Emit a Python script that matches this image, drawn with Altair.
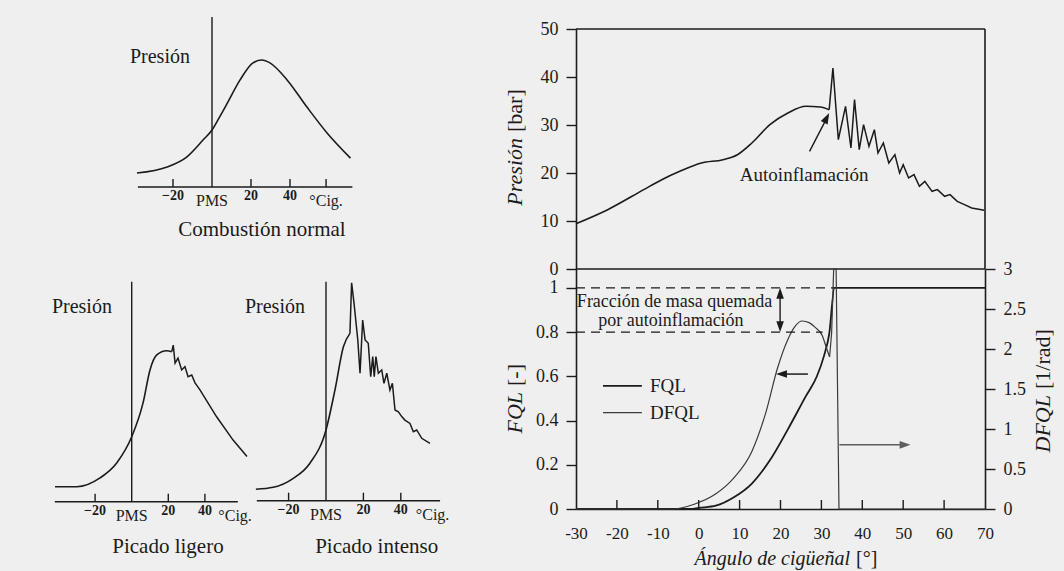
import altair as alt
import pandas as pd

FONT = "Liberation Serif"
INK = "#1b1b1b"
GREY = "#5f5f5f"
BG = "#efefef"

# ---------------- values ----------------
# Schematic panels: crank angle [deg] vs pressure [arbitrary units]
normal_ang = [-38.5, -23, -13, -4.6, 0, 3.8, 7.7, 14.4, 21, 25.6, 29.7, 38.5, 48.7, 59, 71]
normal_p = [8.2, 11.8, 17.6, 27.6, 33.5, 41, 49, 63, 73, 74.7, 73, 63, 47, 31.8, 17]

ligero_ang = [-41.9, -30, -17.3, -8.2, 0, 6.2, 10, 13.7, 19.1, 21.9,
              22.7, 23.7, 25.3, 27.3, 29.1, 30.8, 32.8, 34.6, 37.3, 46.4, 55.4, 63]
ligero_p = [6.8, 6.8, 10.8, 17.6, 29.5, 44.9, 59.9, 66.7, 68.6, 68.2,
            71.2, 63, 65.3, 59.9, 61.4, 56.8, 57.6, 54, 50.8, 38.6, 28, 20.5]
ligero_knock = 21.9

intenso_ang = [-37.5, -28.2, -17.5, -8.6, 0, 4.8, 9.3, 12.8,
               13.7, 15.0, 17.0, 18.2, 19.6, 20.9, 22.6, 23.9, 25.0, 25.8, 26.7, 28.0,
               29.8, 31.0, 32.5, 34.2, 35.5, 36.9, 38.7, 40.5, 42.2, 44.9, 46.7, 48.5,
               51.2, 55.6]
intenso_p = [5.2, 6.1, 10.2, 17.1, 32.3, 50.6, 70.3, 76.4,
             99.5, 90.1, 73.4, 58.2, 82.5, 73.4, 71.9, 56.6, 65.8, 56.6, 65.8, 58.2,
             59.7, 53.6, 58.2, 50.5, 53.6, 41.4, 40.6, 38.4, 36.8, 35.3, 31.5, 32.3,
             28.5, 26.2]
intenso_knock = 12.8

small_ticks = [-20, 20, 40]
small_num_labels = ["\u221220", "20", "40"]

# Measured pressure trace [bar]
press_ang = [-30, -22.25, -13.44, -9.03, -4.63, 0.66, 5.95, 9.47, 13.0, 17.4, 21.8, 26.2, 29.7, 31.9,
             32.82, 34.14, 35.9, 37.22, 38.1, 39.25, 40.31, 41.63, 42.95, 43.83, 45.15, 46.48,
             47.97, 49.12, 50.0, 51.32, 52.64, 53.96, 55.29, 57.05, 58.37, 60.13, 61.45, 63.22,
             64.98, 66.74, 69.82]
press_bar = [9.44, 12.36, 16.53, 18.6, 20.35, 22.08, 22.78, 23.8, 26.25, 30.07, 32.5, 33.9, 33.75, 33.2,
             41.88, 26.94, 33.89, 25.21, 35.28, 24.86, 30.07, 25.56, 29.03, 24.17, 26.25, 22.08,
             23.82, 20.0, 21.74, 18.96, 19.65, 17.22, 18.26, 16.18, 16.53, 15.14, 15.49, 14.1,
             13.4, 12.71, 12.22]
press_knock = 31.9

# Burned mass fraction FQL [-] and its derivative DFQL [1/rad]
fql_ang = [-30, -2, 0, 4.2, 8.6, 13, 17.4, 21.8, 26.2, 28.9, 30.6, 31.9, 33.2, 70]
fql_val = [0, 0, 0.005, 0.015, 0.053, 0.115, 0.22, 0.36, 0.51, 0.60, 0.69, 0.79, 1.0, 1.0]

dfql_ang = [-30, -6.4, -1.1, 4.2, 8.6, 13.0, 16.5, 19.2, 21.8, 23.5, 25.3, 27.0, 28.5, 30.2, 31.2, 32.0,
            32.5, 33.0, 33.6, 34.3, 70]
dfql_val = [0, 0.0, 0.06, 0.19, 0.39, 0.72, 1.22, 1.75, 2.12, 2.28, 2.35, 2.33, 2.27, 2.17, 2.02, 1.9,
            2.2, 3.0, 3.0, 0.0, 0.0]
dfql_knock = 32.0

angle_ticks = [-30, -20, -10, 0, 10, 20, 30, 40, 50, 60, 70]
press_ticks = [0, 10, 20, 30, 40, 50]
fql_ticks = [0, 0.2, 0.4, 0.6, 0.8, 1]
dfql_ticks = [0, 0.5, 1, 1.5, 2, 2.5, 3]

ARROW = "M0,0L-0.8,2.3L0.8,2.3Z"   # arrow head pointing up, tip at origin


def sc(dom, rng):
    return alt.Scale(domain=dom, range=rng, nice=False, zero=False)


def qx(f, s, axis=None):
    return alt.X(f, type="quantitative", scale=s, axis=axis)


def qy(f, s, axis=None):
    return alt.Y(f, type="quantitative", scale=s, axis=axis)


layers = []


def text_layer(df, xs, ys, **mk):
    base = dict(font=FONT, color=INK, baseline="middle", align="center")
    base.update(mk)
    return alt.Chart(df).mark_text(**base).encode(x=qx("x", xs), y=qy("y", ys), text="t:N")


def small_panel(ang, pv, knock, xo, kx, yo, ky, xdom, axis_span, extra_tick, cig_at,
                pres_xy, caption, cap_xy):
    ydom = [-30, 105]
    xs = sc(xdom, [xo + kx * xdom[0], xo + kx * xdom[1]])
    ys = sc(ydom, [yo - ky * ydom[0], yo - ky * ydom[1]])
    df = pd.DataFrame({"x": ang, "y": pv})
    if knock is None:
        layers.append(alt.Chart(df).mark_line(interpolate="monotone", color=INK, strokeWidth=1.6)
                      .encode(x=qx("x", xs), y=qy("y", ys)))
    else:
        layers.append(alt.Chart(df[df.x <= knock]).mark_line(interpolate="monotone", color=INK, strokeWidth=1.6)
                      .encode(x=qx("x", xs), y=qy("y", ys)))
        layers.append(alt.Chart(df[df.x >= knock]).mark_line(color=INK, strokeWidth=1.5)
                      .encode(x=qx("x", xs), y=qy("y", ys)))
    # axis line
    layers.append(alt.Chart(pd.DataFrame({"x": [axis_span[0]], "x1": [axis_span[1]], "y": [0]}))
                  .mark_rule(color=INK, strokeWidth=1.4)
                  .encode(x=qx("x", xs), x2="x1", y=qy("y", ys)))
    # PMS (TDC) line
    layers.append(alt.Chart(pd.DataFrame({"x": [0], "y": [0], "y1": [100]}))
                  .mark_rule(color=INK, strokeWidth=1.4)
                  .encode(x=qx("x", xs), y=qy("y", ys), y2="y1"))
    tks = small_ticks + ([cig_at] if extra_tick else [])
    layers.append(alt.Chart(pd.DataFrame({"x": tks, "y": [0] * len(tks)}))
                  .mark_tick(orient="vertical", size=8, thickness=1.4, yOffset=-4, color=INK, opacity=1)
                  .encode(x=qx("x", xs), y=qy("y", ys)))
    layers.append(text_layer(pd.DataFrame({"x": small_ticks, "y": [0] * 3, "t": small_num_labels}),
                             xs, ys, fontSize=14, fontWeight="bold", dy=9))
    layers.append(text_layer(pd.DataFrame({"x": [0, cig_at], "y": [0, 0], "t": ["PMS", "\u00b0Cig."]}),
                             xs, ys, fontSize=16, dy=14))
    layers.append(text_layer(pd.DataFrame({"x": [pres_xy[0]], "y": [pres_xy[1]], "t": ["Presión"]}),
                             xs, ys, fontSize=20))
    layers.append(text_layer(pd.DataFrame({"x": [cap_xy[0]], "y": [cap_xy[1]], "t": [caption]}),
                             xs, ys, fontSize=21))


small_panel(normal_ang, normal_p, None, 212, 1.95, 187, 1.7, [-40, 73], [-38, 72], True, 58.5,
            (-26.7, 76.6), "Combustión normal", (25.6, -25.3))
small_panel(ligero_ang, ligero_p, ligero_knock, 131.7, 1.83, 501.7, 2.2, [-43, 66], [-42, 58], False, 56.5,
            (-27.2, 88.6), "Picado ligero", (19.8, -20.6))
small_panel(intenso_ang, intenso_p, intenso_knock, 326, 1.87, 500.7, 2.19, [-38, 62], [-37, 61], False, 57,
            (-27.3, 88.6), "Picado intenso", (27.1, -21.1))

# ---------------- main charts ----------------
RX = sc([-30, 70], [576, 985])
PY = sc([0, 50], [269, 29])
FY = sc([0, 1.085], [509, 269])
DY = sc([0, 3], [509, 269])

ax_common = dict(grid=False, title=None, domainColor=INK, tickColor=INK, labelColor=INK,
                 labelFont=FONT, domainWidth=1.6, tickWidth=1.4,
                 labelOverlap=False, labelFlush=False, labelExpr="toString(datum.value)")

pdf = pd.DataFrame({"x": press_ang, "y": press_bar})
layers.append(alt.Chart(pdf[pdf.x <= press_knock]).mark_line(interpolate="monotone", color=INK, strokeWidth=1.6)
              .encode(x=qx("x", RX),
                      y=qy("y", PY, alt.Axis(orient="left", offset=-576, values=press_ticks, tickSize=10,
                                             labelPadding=8, labelFontSize=18, **ax_common))))
layers.append(alt.Chart(pdf[pdf.x >= press_knock]).mark_line(color=INK, strokeWidth=1.5)
              .encode(x=qx("x", RX), y=qy("y", PY)))
# frame of the pressure chart
layers.append(alt.Chart(pd.DataFrame({"x": [-30, -30], "x1": [70, 70], "y": [50, 0]}))
              .mark_rule(color=INK, strokeWidth=1.6).encode(x=qx("x", RX), x2="x1", y=qy("y", PY)))
layers.append(alt.Chart(pd.DataFrame({"x": [70], "y": [0], "y1": [50]}))
              .mark_rule(color=INK, strokeWidth=1.6).encode(x=qx("x", RX), y=qy("y", PY), y2="y1"))
# Autoinflamación annotation
layers.append(alt.Chart(pd.DataFrame({"x": [27.1], "x1": [31.6], "y": [24.5], "y1": [31.9]}))
              .mark_rule(color=INK, strokeWidth=1.4)
              .encode(x=qx("x", RX), x2="x1", y=qy("y", PY), y2="y1"))
layers.append(alt.Chart(pd.DataFrame({"x": [31.9], "y": [32.5]}))
              .mark_point(shape=ARROW, size=90, filled=True, color=INK, opacity=1, angle=27)
              .encode(x=qx("x", RX), y=qy("y", PY)))
layers.append(text_layer(pd.DataFrame({"x": [25.8], "y": [19.65], "t": ["Autoinflamación"]}), RX, PY, fontSize=19))

# FQL / DFQL chart
fdf = pd.DataFrame({"x": fql_ang, "y": fql_val})
layers.append(alt.Chart(fdf).mark_line(interpolate="monotone", color=INK, strokeWidth=1.8)
              .encode(x=qx("x", RX, alt.Axis(orient="bottom", offset=-62, values=angle_ticks, ticks=False,
                                             labelPadding=16, labelFontSize=17, **ax_common)),
                      y=qy("y", FY, alt.Axis(orient="left", offset=-576, values=fql_ticks, tickSize=10,
                                             labelPadding=8, labelFontSize=18, **ax_common))))
ddf = pd.DataFrame({"x": dfql_ang, "y": dfql_val})
layers.append(alt.Chart(ddf[ddf.x <= dfql_knock]).mark_line(interpolate="monotone", color="#3a3a3a", strokeWidth=1.2)
              .encode(x=qx("x", RX),
                      y=qy("y", DY, alt.Axis(orient="right", offset=-79, values=dfql_ticks, tickSize=10,
                                             labelPadding=8, labelFontSize=18, **ax_common))))
layers.append(alt.Chart(ddf[ddf.x >= dfql_knock]).mark_line(color="#3a3a3a", strokeWidth=1.2)
              .encode(x=qx("x", RX), y=qy("y", DY)))
# inward ticks on the angle axis
inner = angle_ticks[1:-1]
layers.append(alt.Chart(pd.DataFrame({"x": inner, "y": [0] * len(inner)}))
              .mark_tick(orient="vertical", size=9, thickness=1.4, yOffset=-4.5, color=INK, opacity=1)
              .encode(x=qx("x", RX), y=qy("y", FY)))
# dashed guides for the autoignition burned fraction
layers.append(alt.Chart(pd.DataFrame({"x": [-30, -30], "x1": [33.2, 30.3], "y": [1.0, 0.8]}))
              .mark_rule(color=INK, strokeWidth=1.3, strokeDash=[9, 6])
              .encode(x=qx("x", RX), x2="x1", y=qy("y", FY)))
layers.append(alt.Chart(pd.DataFrame({"x": [19.9], "y": [0.82], "y1": [0.98]}))
              .mark_rule(color=INK, strokeWidth=1.4).encode(x=qx("x", RX), y=qy("y", FY), y2="y1"))
layers.append(alt.Chart(pd.DataFrame({"x": [19.9, 19.9], "y": [1.0, 0.8], "a": [0, 180]}))
              .mark_point(shape=ARROW, size=90, filled=True, color=INK, opacity=1)
              .encode(x=qx("x", RX), y=qy("y", FY), angle=alt.Angle("a:Q", scale=None)))
layers.append(text_layer(pd.DataFrame({"x": [-5.9, -6.8], "y": [0.938, 0.848],
                                       "t": ["Fracción de masa quemada", "por autoinflamación"]}),
                         RX, FY, fontSize=18))
# curve-to-axis arrows
layers.append(alt.Chart(pd.DataFrame({"x": [19.6], "x1": [26.7], "y": [0.61]}))
              .mark_rule(color=INK, strokeWidth=1.5).encode(x=qx("x", RX), x2="x1", y=qy("y", FY)))
layers.append(alt.Chart(pd.DataFrame({"x": [34.4], "x1": [51.0], "y": [0.29]}))
              .mark_rule(color=GREY, strokeWidth=1.5).encode(x=qx("x", RX), x2="x1", y=qy("y", FY)))
layers.append(alt.Chart(pd.DataFrame({"x": [18.9, 51.8], "y": [0.61, 0.29], "a": [270, 90],
                                      "c": [INK, GREY]}))
              .mark_point(shape=ARROW, size=90, filled=True, opacity=1)
              .encode(x=qx("x", RX), y=qy("y", FY), angle=alt.Angle("a:Q", scale=None),
                      color=alt.Color("c:N", scale=None)))
# legend
layers.append(alt.Chart(pd.DataFrame({"x": [-23.4, -23.4], "x1": [-13.9, -13.9], "y": [0.557, 0.436],
                                      "w": [1.8, 1.2], "c": [INK, "#3a3a3a"]}))
              .mark_rule().encode(x=qx("x", RX), x2="x1", y=qy("y", FY),
                                  strokeWidth=alt.StrokeWidth("w:Q", scale=None),
                                  color=alt.Color("c:N", scale=None)))
layers.append(text_layer(pd.DataFrame({"x": [-11.9, -11.9], "y": [0.557, 0.436], "t": ["FQL", "DFQL"]}),
                         RX, FY, fontSize=19, align="left"))


# axis titles (italic variable name + upright unit)
def title_part(t, x, y, align, italic, angle=0, size=22, baseline="middle"):
    mk = dict(font=FONT, fontSize=size, color=INK, align=align, baseline=baseline)
    if italic:
        mk["fontStyle"] = "italic"
    if angle:
        mk["angle"] = angle
    return alt.Chart(pd.DataFrame({"t": [t]})).mark_text(**mk).encode(
        x=alt.value(x), y=alt.value(y), text="t:N")


layers.append(title_part("Presión", 515, 138, "right", True, 270))
layers.append(title_part("[bar]", 515, 132, "left", False, 270))
layers.append(title_part("FQL", 515, 392, "right", True, 270))
layers.append(title_part("[-]", 515, 386, "left", False, 270))
layers.append(title_part("DFQL", 1043, 395, "right", True, 270))
layers.append(title_part("[1/rad]", 1043, 389, "left", False, 270))
layers.append(title_part("Ángulo de cigüeñal", 850, 565, "right", True, 0, 20, "alphabetic"))
layers.append(title_part("[\u00b0]", 856, 565, "left", False, 0, 20, "alphabetic"))

chart = (alt.layer(*layers)
         .resolve_scale(x="independent", y="independent")
         .properties(width=1064, height=571, padding=0,
                     autosize=alt.AutoSizeParams(type="none"), background=BG)
         .configure_view(stroke=None))

chart.save("out.html", embed_options={"renderer": "svg", "actions": False})
